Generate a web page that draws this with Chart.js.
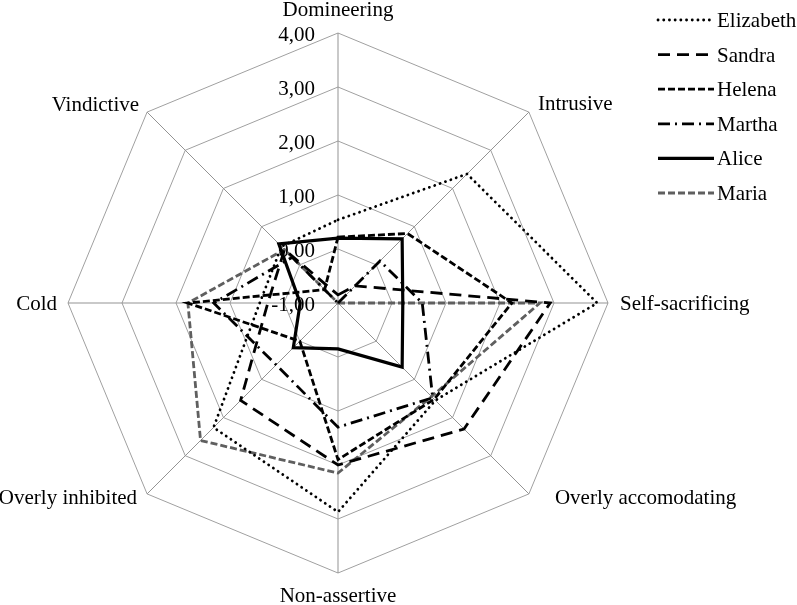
<!DOCTYPE html>
<html>
<head>
<meta charset="utf-8">
<script src="https://cdn.jsdelivr.net/npm/chart.js@4.4.0/dist/chart.umd.min.js"></script>
<style>
  html, body { margin: 0; padding: 0; background: #fff; }
  #wrap { width: 797px; height: 605px; }
</style>
</head>
<body>
<div id="wrap"><canvas id="chart" width="797" height="605"></canvas></div>
<script>
// axes of the radar, clockwise from the top
const categories = ['Domineering', 'Intrusive', 'Self-sacrificing', 'Overly accomodating', 'Non-assertive', 'Overly inhibited', 'Cold', 'Vindictive'];
const tickValues = [-1, 0, 1, 2, 3, 4];
const tickLabels = ['-1,00', '0,00', '1,00', '2,00', '3,00', '4,00'];

const seriesNames = ['Elizabeth', 'Sandra', 'Helena', 'Martha', 'Alice', 'Maria'];
const elizabeth = [0.54, 2.38, 3.80, 1.55, 2.87, 2.26, 0.45, 0.48];
const sandra = [-0.85, -0.55, 2.93, 2.30, 2.00, 1.55, 0.30, 0.40];
const helena = [0.22, 0.82, 2.22, 1.52, 1.90, 0.00, 1.78, -0.65];
const martha = [-1.00, 0.10, 0.56, 1.48, 1.30, 0.62, 1.30, 0.20];
const alice = [0.20, 0.68, 0.20, 0.68, -0.15, 0.17, -0.30, 0.55];
const maria = [-1.00, -1.00, 2.74, 1.45, 2.15, 2.60, 1.78, 0.40];

const FONT = '21px "Liberation Serif", "Times New Roman", serif';

// line look of each person (also used for the legend)
const styles = [
    { color: '#000', width: 2.8, dash: [0.1, 5.6], cap: 'round' },
    { color: '#000', width: 2.8, dash: [12, 7], cap: 'butt' },
    { color: '#000', width: 2.8, dash: [7, 3], cap: 'butt' },
    { color: '#000', width: 2.8, dash: [12, 5, 2, 5], cap: 'butt' },
    { color: '#000', width: 3.2, dash: [], cap: 'butt' },
    { color: '#5f5f5f', width: 2.8, dash: [7, 3], cap: 'butt' }
];
const values = [elizabeth, sandra, helena, martha, alice, maria];

const datasets = seriesNames.map((name, i) => ({
    label: name,
    data: values[i],
    borderColor: styles[i].color,
    borderWidth: styles[i].width,
    borderDash: styles[i].dash,
    borderCapStyle: styles[i].cap,
    borderJoinStyle: 'miter',
    fill: false,
    pointRadius: 0,
    tension: 0
}));

// where each axis title sits: offset from the outer vertex and alignment
const labelPlace = [
    { dx: 0, dy: -17, align: 'center' },
    { dx: 9, dy: -2, align: 'left' },
    { dx: 12, dy: 7, align: 'left' },
    { dx: 26, dy: 10, align: 'left' },
    { dx: 0, dy: 29, align: 'center' },
    { dx: -10, dy: 10, align: 'right' },
    { dx: -11, dy: 7, align: 'right' },
    { dx: -8, dy: -1, align: 'right' }
];

const decorPlugin = {
    id: 'decor',
    beforeDatasetsDraw(chart) {
        // tick values on the left of the vertical axis
        const r = chart.scales.r;
        const ctx = chart.ctx;
        ctx.save();
        ctx.font = FONT;
        ctx.fillStyle = '#000';
        ctx.textAlign = 'right';
        ctx.textBaseline = 'alphabetic';
        tickValues.forEach((v, i) => {
            const y = r.yCenter - r.getDistanceFromCenterForValue(v);
            ctx.fillText(tickLabels[i], r.xCenter - 23, y + 8);
        });
        ctx.restore();
    },
    afterDraw(chart) {
        const r = chart.scales.r;
        const ctx = chart.ctx;
        ctx.save();
        ctx.font = FONT;
        ctx.fillStyle = '#000';
        ctx.textBaseline = 'alphabetic';
        categories.forEach((name, i) => {
            const p = r.getPointPosition(i, r.drawingArea);
            ctx.textAlign = labelPlace[i].align;
            ctx.fillText(name, p.x + labelPlace[i].dx, p.y + labelPlace[i].dy);
        });
        // legend on the right
        seriesNames.forEach((name, i) => {
            const y = 20 + i * 34.6;
            const s = styles[i];
            ctx.beginPath();
            ctx.strokeStyle = s.color;
            ctx.lineWidth = s.width;
            ctx.lineCap = s.cap;
            ctx.setLineDash(s.dash);
            ctx.moveTo(658, y);
            ctx.lineTo(714, y);
            ctx.stroke();
            ctx.setLineDash([]);
            ctx.textAlign = 'left';
            ctx.fillText(name, 717, y + 7);
        });
        ctx.restore();
    }
};

new Chart(document.getElementById('chart'), {
    type: 'radar',
    data: { labels: categories, datasets: datasets },
    options: {
        responsive: false,
        animation: false,
        layout: { padding: { left: 68, right: 189, top: 33, bottom: 32 } },
        plugins: { legend: { display: false }, tooltip: { enabled: false } },
        scales: {
            r: {
                min: -1,
                max: 4,
                ticks: { display: false, stepSize: 1 },
                pointLabels: { display: false },
                grid: { color: '#a0a0a0', lineWidth: 1 },
                angleLines: { color: '#939393', lineWidth: 1 }
            }
        }
    },
    plugins: [decorPlugin]
});
</script>
</body>
</html>
